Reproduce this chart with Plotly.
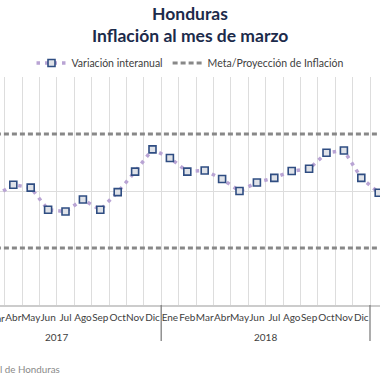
import plotly.graph_objects as go

# ---- data ----
meses = ["Mar", "Abr", "May", "Jun", "Jul", "Ago", "Sep", "Oct", "Nov", "Dic",
         "Ene", "Feb", "Mar", "Abr", "May", "Jun", "Jul", "Ago", "Sep", "Oct", "Nov", "Dic",
         "Ene"]
inflacion = [3.92, 4.11, 4.06, 3.67, 3.64, 3.85, 3.67, 3.98, 4.34, 4.73,
             4.58, 4.34, 4.36, 4.21, 4.00, 4.15, 4.23, 4.35, 4.39, 4.67, 4.71, 4.23,
             3.97]
meta_superior = 5.0
meta_inferior = 3.0
anios = ["2017", "2018"]
anio_centro = [3.5, 15.5]          # centre of each year group (month index)
separadores = [9.5, 21.5]           # year boundaries (month index)
fuente = "Fuente: Banco Central de Honduras"

idx = list(range(len(meses)))

W, H = 380, 380
TOP, BOT = 77, 75
PH = H - TOP - BOT
X_RANGE = [0.235, 22.075]
LBL_FONT = dict(family="Lato", size=10, color="#404040")


def to_paper(xv):
    return (xv - X_RANGE[0]) / (X_RANGE[1] - X_RANGE[0])


fig = go.Figure()

fig.add_trace(go.Scatter(
    x=idx, y=inflacion, mode="lines+markers", name="Variación interanual",
    line=dict(color="#b9a4d4", width=3.5, dash="3.5px,5px"),
    marker=dict(symbol="square", size=7, color="#dfe2e8",
                line=dict(color="#2f4d82", width=1.6)),
    cliponaxis=False,
))
fig.add_trace(go.Scatter(
    x=idx + [None] + idx,
    y=[meta_superior] * len(idx) + [None] + [meta_inferior] * len(idx),
    mode="lines", name="Meta/Proyección de Inflación",
    line=dict(color="#888888", width=3, dash="5px,3px"),
))

shapes = []
for s in separadores:
    shapes.append(dict(type="line", xref="x", yref="paper", x0=s, x1=s,
                       y0=0, y1=-36 / PH, line=dict(color="#808080", width=1.3)))

annotations = [
    dict(text="<b>Honduras</b>", xref="paper", yref="paper", x=0.5,
         y=1 + (TOP - 13) / PH, xanchor="center", yanchor="middle", showarrow=False,
         font=dict(family="Lato", size=17.5, color="#1c2b4b")),
    dict(text="<b>Inflación al mes de marzo</b>", xref="paper", yref="paper", x=0.5,
         y=1 + (TOP - 35) / PH, xanchor="center", yanchor="middle", showarrow=False,
         font=dict(family="Lato", size=17.5, color="#1c2b4b")),
    dict(text=fuente, xref="paper", yref="paper", x=62 / W, y=-(369 - (H - BOT)) / PH,
         xanchor="right", yanchor="middle", showarrow=False,
         font=dict(family="Lato", size=9.8, color="#8a8a8a")),
    # first month label (its tick lies just left of the visible range)
    dict(text=meses[0], xref="paper", yref="paper", x=to_paper(idx[0]),
         y=-(318 - (H - BOT)) / PH,
         xanchor="center", yanchor="middle", showarrow=False, font=LBL_FONT),
]
for a, c in zip(anios, anio_centro):
    annotations.append(dict(text=a, xref="x", yref="paper", x=c, y=-(337 - (H - BOT)) / PH,
                            xanchor="center", yanchor="middle", showarrow=False,
                            font=LBL_FONT))

fig.update_layout(
    width=W, height=H,
    margin=dict(l=0, r=0, t=TOP, b=BOT),
    paper_bgcolor="white", plot_bgcolor="white",
    showlegend=True,
    legend=dict(orientation="h", x=0.5, xanchor="center", y=1 + (TOP - 63) / PH,
                yanchor="middle",
                font=dict(family="Lato", size=10.5, color="#404040"),
                bgcolor="rgba(0,0,0,0)", itemwidth=30),
    xaxis=dict(range=X_RANGE, tickvals=idx[1:], ticktext=meses[1:],
               tickangle=0,
               showgrid=False, zeroline=False, showline=True, linecolor="#cccccc",
               linewidth=1.5, ticks="", ticklabelstandoff=2,
               tickfont=LBL_FONT,
               minor=dict(tickvals=[i + 0.5 for i in range(-1, len(meses))],
                          showgrid=True, gridcolor="#dddddd", gridwidth=1, ticks="")),
    yaxis=dict(range=[2, 6], tickvals=[4], showticklabels=False, showgrid=True,
               gridcolor="#dddddd", gridwidth=1, zeroline=False, showline=False),
    shapes=shapes, annotations=annotations,
)

fig.write_html("out.html", config={"displayModeBar": False},
               post_script="document.body.style.margin='0';document.body.style.overflow='hidden';")
